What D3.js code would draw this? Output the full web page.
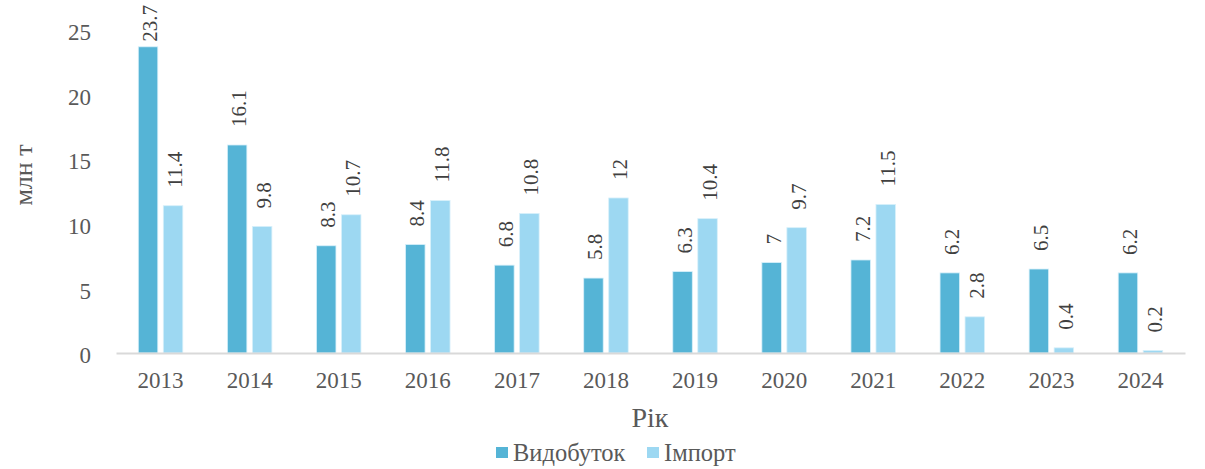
<!DOCTYPE html>
<html>
<head>
<meta charset="utf-8">
<script src="https://cdn.jsdelivr.net/npm/d3@7"></script>
<style>
  body { margin: 0; background: #fff; }
</style>
</head>
<body>
<svg id="chart"></svg>
<script>
const width = 1205;
const height = 469;
const FONT = "Liberation Serif";

// data
const years = ["2013", "2014", "2015", "2016", "2017", "2018", "2019", "2020", "2021", "2022", "2023", "2024"];
const production = [23.7, 16.1, 8.3, 8.4, 6.8, 5.8, 6.3, 7, 7.2, 6.2, 6.5, 6.2];
const imports = [11.4, 9.8, 10.7, 11.8, 10.8, 12, 10.4, 9.7, 11.5, 2.8, 0.4, 0.2];
const seriesNames = ["Видобуток", "Імпорт"];
const yTicks = [0, 5, 10, 15, 20, 25];

const colors = ["#55b4d6", "#9dd8f2"];

const margin = { top: 30, right: 20, bottom: 116, left: 116 };

const svg = d3.select("svg#chart")
  .attr("width", width)
  .attr("height", height)
  .style("font-family", FONT);

const x = d3.scaleBand()
  .domain(years)
  .range([margin.left, width - margin.right]);

const y = d3.scaleLinear()
  .domain([0, 25])
  .range([height - margin.bottom, margin.top]);

const barW = 19.5;
const gap = 5.5;

// y axis labels (no line)
svg.append("g")
  .attr("transform", "translate(" + (margin.left - 22) + ",0)")
  .call(d3.axisLeft(y).tickValues(yTicks).tickSize(0).tickFormat(d3.format("d")))
  .call(g => g.select(".domain").remove())
  .selectAll("text")
  .style("font-family", FONT)
  .style("font-size", "23px")
  .style("fill", "#595959")
  .attr("dy", "0.42em");

// bars
const series = [production, imports];
series.forEach(function(vals, si) {
  const g = svg.append("g").attr("class", "series" + si);
  const offs = si == 0 ? -(gap / 2 + barW) : gap / 2;
  g.selectAll("rect")
    .data(vals)
    .enter()
    .append("rect")
      .attr("x", (d, i) => x(years[i]) + x.bandwidth() / 2 + offs)
      .attr("y", d => y(d))
      .attr("width", barW)
      .attr("height", d => y(0) - y(d))
      .style("fill", colors[si])
      .style("stroke", "#d8f0fa")
      .style("stroke-width", 0.8);

  // rotated value labels, kept inside the top edge
  g.selectAll("text")
    .data(vals)
    .enter()
    .append("text")
      .style("font-family", FONT)
      .style("font-size", "21px")
      .style("fill", "#404040")
      .text(d => d)
      .attr("transform", function(d, i) {
        const len = this.getComputedTextLength();
        const start = Math.max(y(d) - 18, len + 5);
        return "translate(" + (x(years[i]) + x.bandwidth() / 2 + offs + barW / 2 + 9) + "," + start + ") rotate(-90)";
      });
});

// x axis
svg.append("g")
  .attr("transform", "translate(0," + y(0) + ")")
  .call(d3.axisBottom(x).tickSize(0).tickPadding(19))
  .call(g => g.select(".domain").attr("stroke", "#d9d9d9").attr("stroke-width", 2))
  .selectAll("text")
  .style("font-family", FONT)
  .style("font-size", "23px")
  .style("fill", "#595959");

// axis titles
svg.append("text")
  .attr("transform", "translate(32,175) rotate(-90)")
  .attr("text-anchor", "middle")
  .style("font-size", "26px")
  .style("fill", "#595959")
  .text("млн т");

svg.append("text")
  .attr("x", 650)
  .attr("y", 427)
  .attr("text-anchor", "middle")
  .style("font-size", "28px")
  .style("fill", "#595959")
  .text("Рік");

// legend
const legend = svg.append("g").attr("transform", "translate(496,447)");
const legX = [0, 151];
seriesNames.forEach(function(name, i) {
  legend.append("rect")
    .attr("x", legX[i])
    .attr("y", 0)
    .attr("width", 12)
    .attr("height", 11)
    .style("fill", colors[i]);
  legend.append("text")
    .attr("x", legX[i] + 17)
    .attr("y", 14)
    .style("font-size", "24.5px")
    .style("fill", "#595959")
    .text(name);
});
</script>
</body>
</html>
